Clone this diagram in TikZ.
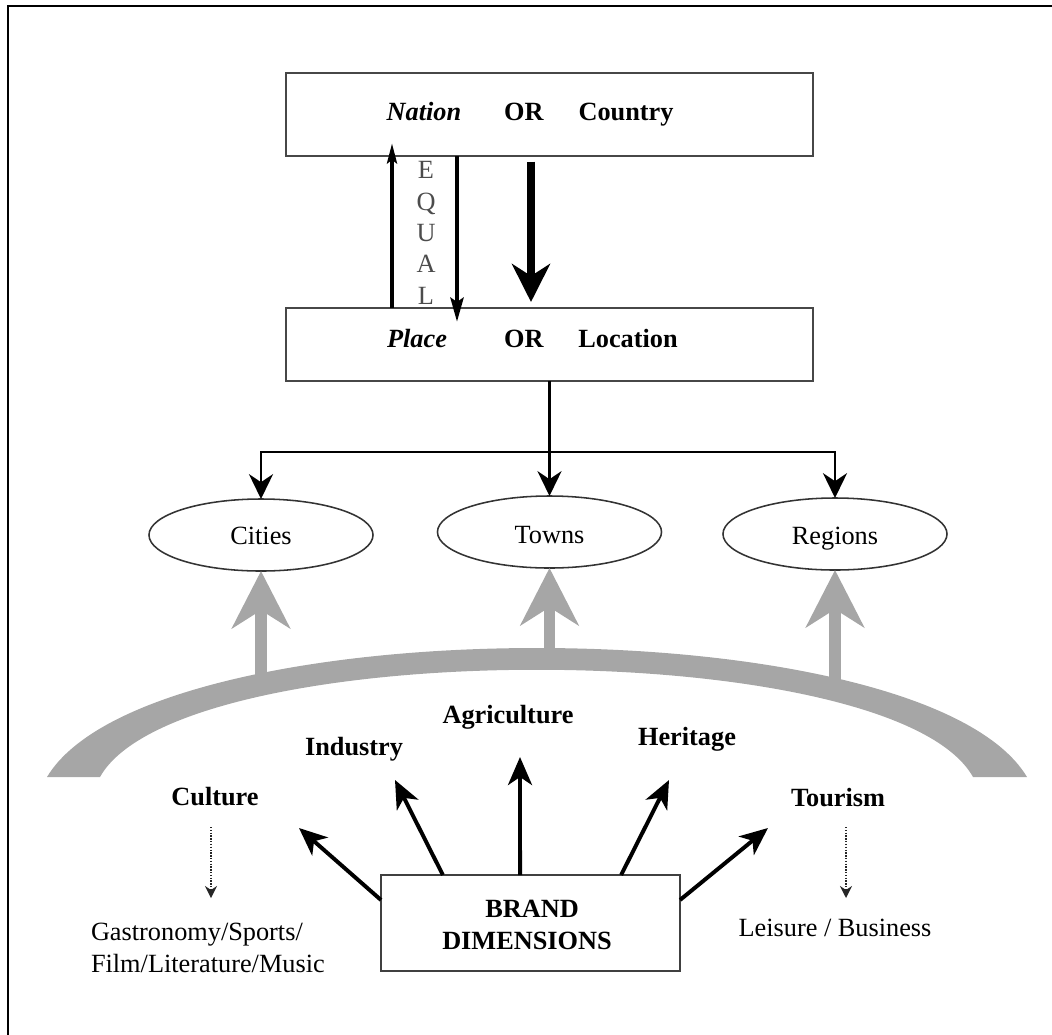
\documentclass[tikz,border=0pt]{standalone}
\usepackage{fontspec}
\setmainfont{Liberation Serif}
\usetikzlibrary{arrows.meta,shapes.geometric,calc}
\definecolor{bandgray}{HTML}{A6A6A6}
\begin{document}
\begin{tikzpicture}[x=0.025cm,y=-0.025cm,
  every node/.style={font=\fontsize{18.7}{22.7}\selectfont, inner sep=0pt, outer sep=0pt},
  lbl/.style={anchor=base},
  boxnode/.style={draw=black!72, line width=1.3pt, rectangle, minimum width=13.175cm},
  ellnode/.style={draw=black!80, line width=1.1pt, ellipse, minimum width=5.6cm, minimum height=1.8cm},
  eqletter/.style={anchor=base, text=black!70},
  equp/.style={line width=3.4pt, -{Stealth[length=0.5cm,width=0.24cm,inset=0.08cm]}},
  eqdn/.style={line width=3.4pt, -{Stealth[length=0.6cm,width=0.32cm,inset=0.1cm]}},
  bigdn/.style={line width=5pt, -{Stealth[length=0.95cm,width=0.95cm,inset=0.3cm]}},
  branch/.style={line width=2.1pt, -{Stealth[length=0.62cm,width=0.6cm,inset=0.2cm]}},
  plainline/.style={line width=2.1pt},
  brandarrow/.style={line width=2.8pt, -{Stealth[length=0.7cm,width=0.6cm,inset=0.2cm]}},
  grayarrow/.style={draw=bandgray, line width=8.5pt, -{Stealth[length=1.43cm,width=1.45cm,inset=0.45cm]}},
  dotarrow/.style={line width=1pt, densely dotted, black!85, -{Stealth[length=0.3cm,width=0.3cm]}}
]
\useasboundingbox (0,0) rectangle (1052,1034);
% outer frame (cropped)
\draw[line width=1.5pt] (8,1040) -- (8,6) -- (1060,6);

% top boxes
\node[boxnode, minimum height=2.075cm] (nation) at (549.5,114.5) {};
\node[boxnode, minimum height=1.825cm] (place) at (549.5,344.5) {};
\node[lbl] (tNation) at (424,120) {\textbf{\textit{Nation}}};
\node[lbl] (tOR1) at (524,120) {\textbf{OR}};
\node[lbl] (tCountry) at (626,120) {\textbf{Country}};
\node[lbl] (tPlace) at (417,347) {\textbf{\textit{Place}}};
\node[lbl] (tOR2) at (524,347) {\textbf{OR}};
\node[lbl] (tLocation) at (628,347) {\textbf{Location}};

% EQUAL
\node[eqletter] (eq1) at (426,178) {E};
\node[eqletter] (eq2) at (426,210) {Q};
\node[eqletter] (eq3) at (426,241) {U};
\node[eqletter] (eq4) at (426,272) {A};
\node[eqletter] (eq5) at (426,304) {L};

\coordinate (eqUpTip) at (392,143);
\coordinate (eqDnTip) at (457,322);
\draw[equp] (eqUpTip |- place.north) -- (eqUpTip);
\draw[eqdn] (eqDnTip |- nation.south) -- (eqDnTip);
\coordinate (bigTip) at (531,302);
\draw[bigdn] ([yshift=-4]bigTip |- nation.south) -- (bigTip);

% ellipses
\node[ellnode] (cities) at (261,535) {};
\node[ellnode] (towns) at (549.5,532) {};
\node[ellnode] (regions) at (835,534) {};
\node[lbl] (tCities) at (261,544) {Cities};
\node[lbl] (tTowns) at (549.5,543) {Towns};
\node[lbl] (tRegions) at (835,544) {Regions};

\coordinate (junc) at (549.5,452);
\draw[plainline] (place.south) -- (junc);
\draw[branch] (junc) -| (cities.north);
\draw[branch] (junc) -| (regions.north);
\draw[branch] (junc) -- (towns.north);

% gray band
\fill[bandgray] (47,777) .. controls (150,605) and (924,605) .. (1027,777)
  -- (973,777) .. controls (893,634) and (180,634) .. (100,777) -- cycle;

\coordinate (gC) at (261,690);
\coordinate (gT) at (549.5,662);
\coordinate (gR) at (835,692);
\draw[grayarrow] (gC) -- (cities.south);
\draw[grayarrow] (gT) -- (towns.south);
\draw[grayarrow] (gR) -- (regions.south);

% labels
\node[lbl] (culture) at (215,805) {\textbf{Culture}};
\node[lbl] (industry) at (354,755) {\textbf{Industry}};
\node[lbl] (agri) at (508,723) {\textbf{Agriculture}};
\node[lbl] (heritage) at (687,745) {\textbf{Heritage}};
\node[lbl] (tourism) at (838,806) {\textbf{Tourism}};

% brand box
\node[draw=black!75, line width=1.3pt, minimum width=7.475cm, minimum height=2.4cm] (brand) at (530.5,923) {};
\node[lbl] (brand1) at (532,917) {\textbf{BRAND}};
\node[lbl] (brand2) at (527,949) {\textbf{DIMENSIONS}};

\coordinate (tipCul) at (299,828);
\coordinate (tipInd) at (395,780);
\coordinate (tipAgr) at (520,757);
\coordinate (tipHer) at (669,780);
\coordinate (tipTou) at (768,828);
\draw[brandarrow] ($(brand.north west)!0.26!(brand.south west)$) -- (tipCul);
\draw[brandarrow] ($(brand.north west)!0.207!(brand.north east)$) -- (tipInd);
\draw[brandarrow] ($(brand.north west)!0.465!(brand.north east)$) -- (tipAgr);
\draw[brandarrow] ($(brand.north west)!0.803!(brand.north east)$) -- (tipHer);
\draw[brandarrow] ($(brand.north east)!0.26!(brand.south east)$) -- (tipTou);

% sub-lists
\node[anchor=base west] (gastro1) at (91,940) {Gastronomy/Sports/};
\node[anchor=base west] (gastro2) at (91,972) {Film/Literature/Music};
\node[lbl] (leisure) at (835,936) {Leisure / Business};

\coordinate (dc1) at (211,827);
\coordinate (dc2) at (211,898);
\coordinate (dt1) at (846,827);
\coordinate (dt2) at (846,898);
\draw[dotarrow] (dc1) -- (dc2);
\draw[dotarrow] (dt1) -- (dt2);
\end{tikzpicture}
\end{document}
